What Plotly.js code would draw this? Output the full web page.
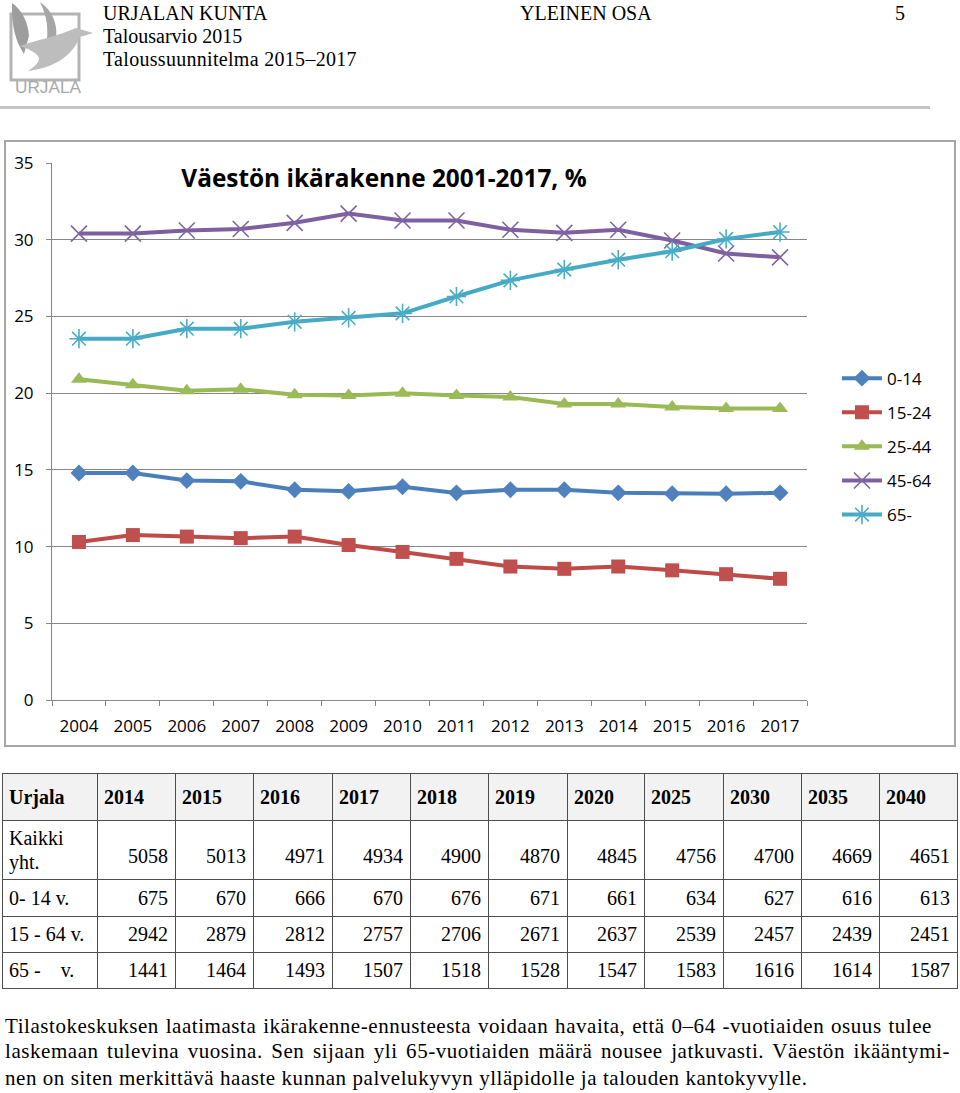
<!DOCTYPE html>
<html>
<head>
<meta charset="utf-8">
<script src="https://cdn.plot.ly/plotly-3.0.1.min.js"></script>
<style>
  html, body { margin:0; padding:0; background:#fff; }
  #page { position:relative; width:960px; height:1093px; overflow:hidden; font-family:"Liberation Serif","Times New Roman",serif; color:#000; }
  .hdr { position:absolute; font-size:20px; line-height:23px; white-space:nowrap; }
  #rule { position:absolute; left:0; top:106px; width:930px; height:3px; background:#c4c4c4; }
  #chartbox { position:absolute; left:4px; top:140px; width:952px; height:607px; border:2px solid #a6a6a6; box-sizing:border-box; }
  #chart { position:absolute; left:0; top:0; width:948px; height:603px; }
  #tbl { position:absolute; left:2px; top:773px; border-collapse:collapse; table-layout:fixed; font-size:20px; }
  #tbl td { border:1.5px solid #4d4d4d; padding:0; white-space:nowrap; }
  #tbl tr.head td { background:#f2f2f2; font-weight:bold; text-align:left; padding-left:6px; vertical-align:middle; }
  #tbl td.num { text-align:right; padding-right:7px; vertical-align:middle; }
  #tbl td.lab { text-align:left; padding-left:6px; vertical-align:middle; }
  #tbl tr.total td.num { vertical-align:bottom; padding-bottom:11px; line-height:24px; }
  #tbl tr.total td.lab { line-height:24px; }
  .pline { position:absolute; left:5px; font-size:21px; letter-spacing:0.55px; line-height:25px; white-space:nowrap; }
  .just { text-align:justify; text-align-last:justify; white-space:normal; }
</style>
</head>
<body>
<div id="page">
  <svg style="position:absolute;left:0;top:0" width="100" height="100" viewBox="0 0 100 100">
    <rect x="11" y="14" width="68" height="66" fill="none" stroke="#b3b3b3" stroke-width="3"/>
    <path d="M12,3 C22,10 28,22 29,36 L24,54 C16,42 11,26 12,3 Z" fill="#9d9d9d"/>
    <path d="M40,2 C52,10 58,24 56,38 L46,46 C49,30 47,16 40,2 Z" fill="#a6a6a6"/>
    <path d="M20,46 C36,40 56,37 76,28 L93,33 L80,37 C70,60 50,68 28,71 C42,62 46,55 20,46 Z" fill="#bdbdbd"/>
    <text x="15" y="93" font-family="Liberation Sans, Arial, sans-serif" font-size="16" fill="#a8a8a8" textLength="66" lengthAdjust="spacingAndGlyphs">URJALA</text>
  </svg>
  <div class="hdr" style="left:103px;top:2px;">URJALAN KUNTA</div>
  <div class="hdr" style="left:103px;top:25px;">Talousarvio 2015</div>
  <div class="hdr" style="left:103px;top:48px;letter-spacing:0.3px;">Taloussuunnitelma 2015–2017</div>
  <div class="hdr" style="left:520px;top:2px;">YLEINEN OSA</div>
  <div class="hdr" style="left:895px;top:2px;">5</div>
  <div id="rule"></div>

  <div id="chartbox"><div id="chart"></div></div>

  <table id="tbl"></table>

  <div class="pline just" style="top:1014px;width:927px;">Tilastokeskuksen laatimasta ikärakenne-ennusteesta voidaan havaita, että 0–64 -vuotiaiden osuus tulee</div>
  <div class="pline just" style="top:1039px;width:945px;">laskemaan tulevina vuosina. Sen sijaan yli 65-vuotiaiden määrä nousee jatkuvasti. Väestön ikääntymi-</div>
  <div class="pline" style="top:1066px;">nen on siten merkittävä haaste kunnan palvelukyvyn ylläpidolle ja talouden kantokyvylle.</div>
</div>

<script>
// ---- chart data ----
var years = ['2004','2005','2006','2007','2008','2009','2010','2011','2012','2013','2014','2015','2016','2017'];
var seriesNames = ['0-14','15-24','25-44','45-64','65-'];
var age_0_14  = [14.8, 14.8, 14.3, 14.25, 13.7, 13.6, 13.9, 13.5, 13.7, 13.7, 13.5, 13.45, 13.45, 13.5];
var age_15_24 = [10.3, 10.75, 10.65, 10.55, 10.65, 10.1, 9.65, 9.2, 8.7, 8.55, 8.7, 8.45, 8.2, 7.9];
var age_25_44 = [20.9, 20.55, 20.15, 20.25, 19.9, 19.85, 20.0, 19.85, 19.75, 19.3, 19.3, 19.1, 19.0, 19.0];
var age_45_64 = [30.4, 30.4, 30.6, 30.7, 31.1, 31.7, 31.25, 31.25, 30.65, 30.45, 30.65, 29.95, 29.1, 28.85];
var age_65    = [23.55, 23.55, 24.2, 24.2, 24.65, 24.9, 25.2, 26.3, 27.35, 28.05, 28.7, 29.25, 30.05, 30.5];
var chartTitle = 'Väestön ikärakenne 2001-2017, %';

// ---- table data ----
var tableCorner = 'Urjala';
var tableYears = ['2014','2015','2016','2017','2018','2019','2020','2025','2030','2035','2040'];
var tableRowLabels = ['Kaikki<br>yht.', '0- 14 v.', '15 - 64 v.', '65 -&nbsp;&nbsp;&nbsp; v.'];
var popTotal = [5058, 5013, 4971, 4934, 4900, 4870, 4845, 4756, 4700, 4669, 4651];
var pop0_14  = [675, 670, 666, 670, 676, 671, 661, 634, 627, 616, 613];
var pop15_64 = [2942, 2879, 2812, 2757, 2706, 2671, 2637, 2539, 2457, 2439, 2451];
var pop65    = [1441, 1464, 1493, 1507, 1518, 1528, 1547, 1583, 1616, 1614, 1587];

// ---- styles ----
var lineColors   = ['#4A7EBB','#BE4B48','#98B954','#7D60A0','#46AAC5'];
var markerColors = ['#4F81BD','#C0504D','#9BBB59','#8064A2','#4BACC6'];
var markerSymbols = ['diamond','square','triangle-up','x-thin','asterisk'];
var markerSizes = [13, 14, 14, 16, 16];
var values = [age_0_14, age_15_24, age_25_44, age_45_64, age_65];

var traces = values.map(function(v, i) {
  var thin = (i >= 3);
  return {
    type: 'scatter', mode: 'lines+markers',
    x: years, y: v, name: seriesNames[i], legendgroup: 'g' + i,
    line: { color: lineColors[i], width: 4 },
    marker: {
      symbol: markerSymbols[i], size: markerSizes[i], color: markerColors[i],
      line: thin ? { color: markerColors[i], width: 1.6 } : { width: 0 }
    },
    hoverinfo: 'x+y+name'
  };
});

var tickFont = { family: '"Open Sans", "Noto Sans", sans-serif', size: 17, color: '#000' };
var layout = {
  width: 948, height: 603,
  margin: { l: 46, r: 147, t: 21, b: 45, pad: 0 },
  paper_bgcolor: '#fff', plot_bgcolor: '#fff',
  showlegend: true,
  title: {
    text: '<b>' + chartTitle + '</b>',
    font: { family: '"Open Sans", "Noto Sans", sans-serif', size: 24.4, color: '#000' },
    x: 0.3987, xanchor: 'center', xref: 'container',
    y: 0.940, yanchor: 'middle', yref: 'container'
  },
  xaxis: {
    type: 'category', range: [-0.5, 13.5], tickson: 'boundaries', ticks: 'outside', ticklen: 5, tickcolor: '#868686',
    showline: true, linecolor: '#868686', linewidth: 1, showgrid: false, zeroline: false,
    tickfont: tickFont, ticklabelstandoff: 11, fixedrange: true
  },
  yaxis: {
    range: [0, 35], dtick: 5, tick0: 0, ticks: 'outside', ticklen: 5, tickcolor: '#868686',
    showline: true, linecolor: '#868686', linewidth: 1,
    showgrid: true, gridcolor: '#868686', gridwidth: 1, zeroline: false,
    tickfont: tickFont, ticklabelstandoff: 9, fixedrange: true
  },
  legend: {
    x: 1.0397, xanchor: 'left', y: 0.632, yanchor: 'top',
    font: { family: '"Open Sans", "Noto Sans", sans-serif', size: 17, color: '#000' },
    tracegroupgap: 9, itemwidth: 40, bgcolor: 'rgba(0,0,0,0)', borderwidth: 0
  }
};

Plotly.newPlot('chart', traces, layout, { displayModeBar: false, staticPlot: true });

// ---- table ----
var colWidths = [95, 78, 78, 79, 78, 78, 79, 77, 79, 78, 78, 78];
var rowHeights = [47, 59, 37, 36, 36];
var tableRows = [popTotal, pop0_14, pop15_64, pop65];
var html = '<colgroup>' + colWidths.map(function(w){ return '<col style="width:' + w + 'px">'; }).join('') + '</colgroup>';
html += '<tr class="head" style="height:' + rowHeights[0] + 'px"><td>' + tableCorner + '</td>' +
        tableYears.map(function(y){ return '<td>' + y + '</td>'; }).join('') + '</tr>';
tableRows.forEach(function(r, i) {
  html += '<tr class="' + (i === 0 ? 'total' : '') + '" style="height:' + rowHeights[i + 1] + 'px"><td class="lab">' +
          tableRowLabels[i] + '</td>' + r.map(function(v){ return '<td class="num">' + v + '</td>'; }).join('') + '</tr>';
});
document.getElementById('tbl').innerHTML = html;
document.getElementById('tbl').style.width = colWidths.reduce(function(a,b){return a+b;}, 0) + 'px';
</script>
</body>
</html>
